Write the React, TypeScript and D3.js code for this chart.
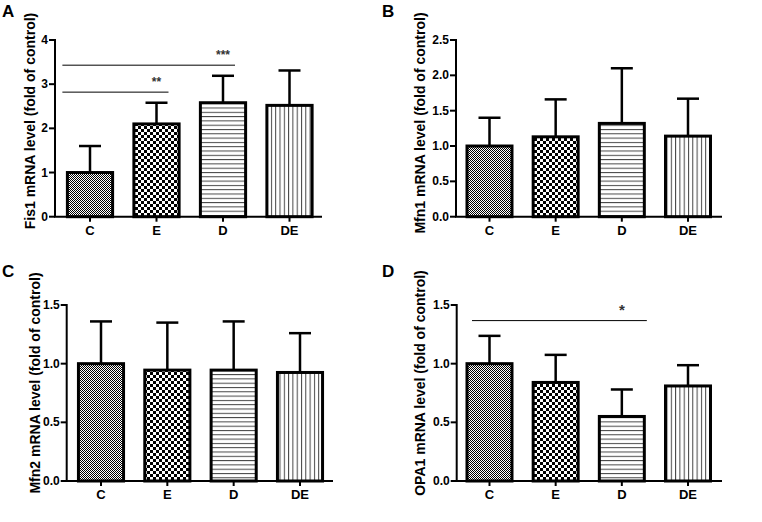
import React from "react";
import * as d3 from "d3";

const categories = ["C", "E", "D", "DE"];

const fis1Mean = [1.0, 2.1, 2.58, 2.52];
const fis1Err = [0.6, 0.48, 0.61, 0.79];
const fis1Ticks = [0, 1, 2, 3, 4];

const mfn1Mean = [1.0, 1.13, 1.32, 1.14];
const mfn1Err = [0.4, 0.53, 0.78, 0.53];
const mfn1Ticks = [0, 0.5, 1.0, 1.5, 2.0, 2.5];

const mfn2Mean = [1.0, 0.945, 0.945, 0.925];
const mfn2Err = [0.36, 0.405, 0.415, 0.335];
const mfn2Ticks = [0, 0.5, 1.0, 1.5];

const opa1Mean = [1.0, 0.84, 0.55, 0.81];
const opa1Err = [0.237, 0.235, 0.23, 0.177];
const opa1Ticks = [0, 0.5, 1.0, 1.5];

// significance: [from category, to category, bracket height value, label]
const fis1Sig: [string, string, number, string][] = [
  ["C", "E", 2.82, "**"],
  ["C", "D", 3.43, "***"],
];
const opa1Sig: [string, string, number, string][] = [["C", "D", 1.367, "*"]];

const patterns = ["fineCheck", "coarseCheck", "hLines", "vLines"];

const FONT = "'Liberation Sans', Arial, sans-serif";

type PanelProps = {
  letter: string;
  letterX: number;
  letterY: number;
  label: string;
  labelX: number;
  labelY: number;
  axisX: number;
  y0: number;
  yTop: number;
  yMax: number;
  xEnd: number;
  c0: number;
  c3: number;
  means: number[];
  errs: number[];
  ticks: number[];
  tickFmt: (v: number) => string;
  sig?: [string, string, number, string][];
  sigStartOffset?: number;
  sigEndOffset?: number;
};

function Panel(p: PanelProps) {
  const y = d3.scaleLinear().domain([0, p.yMax]).range([p.y0, p.yTop]);
  const step = (p.c3 - p.c0) / 3;
  const x = d3
    .scaleBand<string>()
    .domain(categories)
    .range([p.c0 - step / 2, p.c3 + step / 2])
    .paddingInner(0.32)
    .paddingOuter(0.16);
  const bw = x.bandwidth();
  const capW = 22;
  return (
    <g>
      <text x={p.letterX} y={p.letterY} fontFamily={FONT} fontWeight="bold" fontSize={17}>
        {p.letter}
      </text>
      <text
        transform={`translate(${p.labelX},${p.labelY}) rotate(-90)`}
        textAnchor="middle"
        dominantBaseline="central"
        fontFamily={FONT}
        fontWeight="bold"
        fontSize={14}
      >
        {p.label}
      </text>
      {/* error bars */}
      {categories.map((c, i) => {
        const cx = (x(c) as number) + bw / 2;
        const top = y(p.means[i] + p.errs[i]);
        return (
          <g key={"e" + c} stroke="#000" strokeWidth={2.5}>
            <line x1={cx} x2={cx} y1={y(p.means[i])} y2={top} />
            <line x1={cx - capW / 2} x2={cx + capW / 2} y1={top} y2={top} />
          </g>
        );
      })}
      {/* bars */}
      {categories.map((c, i) => (
        <rect
          key={"b" + c}
          x={x(c) as number}
          y={y(p.means[i])}
          width={bw}
          height={p.y0 - y(p.means[i])}
          fill={`url(#${patterns[i]})`}
          stroke="#000"
          strokeWidth={3}
        />
      ))}
      {/* y axis */}
      <line x1={p.axisX} x2={p.axisX} y1={p.y0} y2={y(p.yMax) - 1} stroke="#000" strokeWidth={2} />
      {p.ticks.map((t) => (
        <g key={"t" + t}>
          <line x1={p.axisX - 6} x2={p.axisX} y1={y(t)} y2={y(t)} stroke="#000" strokeWidth={2} />
          <text
            x={p.axisX - 7}
            y={y(t)}
            textAnchor="end"
            dominantBaseline="central"
            fontFamily={FONT}
            fontWeight="bold"
            fontSize={12}
          >
            {p.tickFmt(t)}
          </text>
        </g>
      ))}
      {/* x axis */}
      <line x1={p.axisX - 1} x2={p.xEnd} y1={p.y0} y2={p.y0} stroke="#000" strokeWidth={2} />
      {categories.map((c) => {
        const cx = (x(c) as number) + bw / 2;
        return (
          <g key={"x" + c}>
            <line x1={cx} x2={cx} y1={p.y0} y2={p.y0 + 5} stroke="#000" strokeWidth={2} />
            <text
              x={cx}
              y={p.y0 + 18}
              textAnchor="middle"
              fontFamily={FONT}
              fontWeight="bold"
              fontSize={13}
            >
              {c}
            </text>
          </g>
        );
      })}
      {/* significance */}
      {(p.sig || []).map(([a, b, v, lab]) => {
        const xa = (x(a) as number) + (p.sigStartOffset ?? 0);
        const xb = (x(b) as number) + bw / 2 + (p.sigEndOffset ?? 0);
        const xc = (x(b) as number) + bw / 2;
        return (
          <g key={"s" + b}>
            <line x1={xa} x2={xb} y1={y(v)} y2={y(v)} stroke="#000" strokeWidth={1} />
            <text
              x={xc}
              y={y(v) - 6}
              textAnchor="middle"
              fontFamily={FONT}
              fontWeight="bold"
              fontSize={lab.length === 1 ? 15 : 12}
              fill="#333"
            >
              {lab}
            </text>
          </g>
        );
      })}
    </g>
  );
}

export default function App() {
  const fmt1 = (v: number) => d3.format(".1f")(v);
  const fmt0 = (v: number) => d3.format("d")(v);
  return (
    <svg width={762} height={522} style={{ position: "absolute", left: 0, top: 0, background: "#fff" }}>
      <defs>
        <pattern id="fineCheck" width={2} height={2} patternUnits="userSpaceOnUse">
          <rect width={2} height={2} fill="#fff" />
          <rect x={0} y={0} width={1} height={1} fill="#000" />
          <rect x={1} y={1} width={1} height={1} fill="#000" />
        </pattern>
        <pattern id="coarseCheck" width={6} height={6} patternUnits="userSpaceOnUse">
          <rect width={6} height={6} fill="#fff" />
          <rect x={0} y={0} width={3} height={3} fill="#000" />
          <rect x={3} y={3} width={3} height={3} fill="#000" />
        </pattern>
        <pattern id="hLines" width={8} height={4.3} patternUnits="userSpaceOnUse">
          <rect width={8} height={4.3} fill="#fff" />
          <rect x={0} y={0} width={8} height={1} fill="#444" />
        </pattern>
        <pattern id="vLines" width={4.3} height={8} patternUnits="userSpaceOnUse">
          <rect width={4.3} height={8} fill="#fff" />
          <rect x={0} y={0} width={1} height={8} fill="#444" />
        </pattern>
      </defs>
      <rect width={762} height={522} fill="#fff" />
      <Panel
        letter="A" letterX={2} letterY={17}
        label="Fis1 mRNA level (fold of control)" labelX={30} labelY={121}
        axisX={55} y0={216.7} yTop={40} yMax={4} xEnd={322}
        c0={90} c3={289.5}
        means={fis1Mean} errs={fis1Err} ticks={fis1Ticks} tickFmt={fmt0}
        sig={fis1Sig} sigStartOffset={-5} sigEndOffset={12}
      />
      <Panel
        letter="B" letterX={382} letterY={17}
        label="Mfn1 mRNA level (fold of control)" labelX={420} labelY={123}
        axisX={456} y0={216.7} yTop={40} yMax={2.5} xEnd={722}
        c0={489.5} c3={688}
        means={mfn1Mean} errs={mfn1Err} ticks={mfn1Ticks} tickFmt={fmt1}
      />
      <Panel
        letter="C" letterX={2} letterY={277}
        label="Mfn2 mRNA level (fold of control)" labelX={35} labelY={383}
        axisX={66.7} y0={481} yTop={305} yMax={1.5} xEnd={333}
        c0={101} c3={300}
        means={mfn2Mean} errs={mfn2Err} ticks={mfn2Ticks} tickFmt={fmt1}
      />
      <Panel
        letter="D" letterX={382} letterY={277}
        label="OPA1 mRNA level (fold of control)" labelX={420} labelY={383}
        axisX={456.7} y0={481} yTop={305} yMax={1.5} xEnd={722}
        c0={489.5} c3={688}
        means={opa1Mean} errs={opa1Err} ticks={opa1Ticks} tickFmt={fmt1}
        sig={opa1Sig} sigStartOffset={5} sigEndOffset={25}
      />
    </svg>
  );
}
